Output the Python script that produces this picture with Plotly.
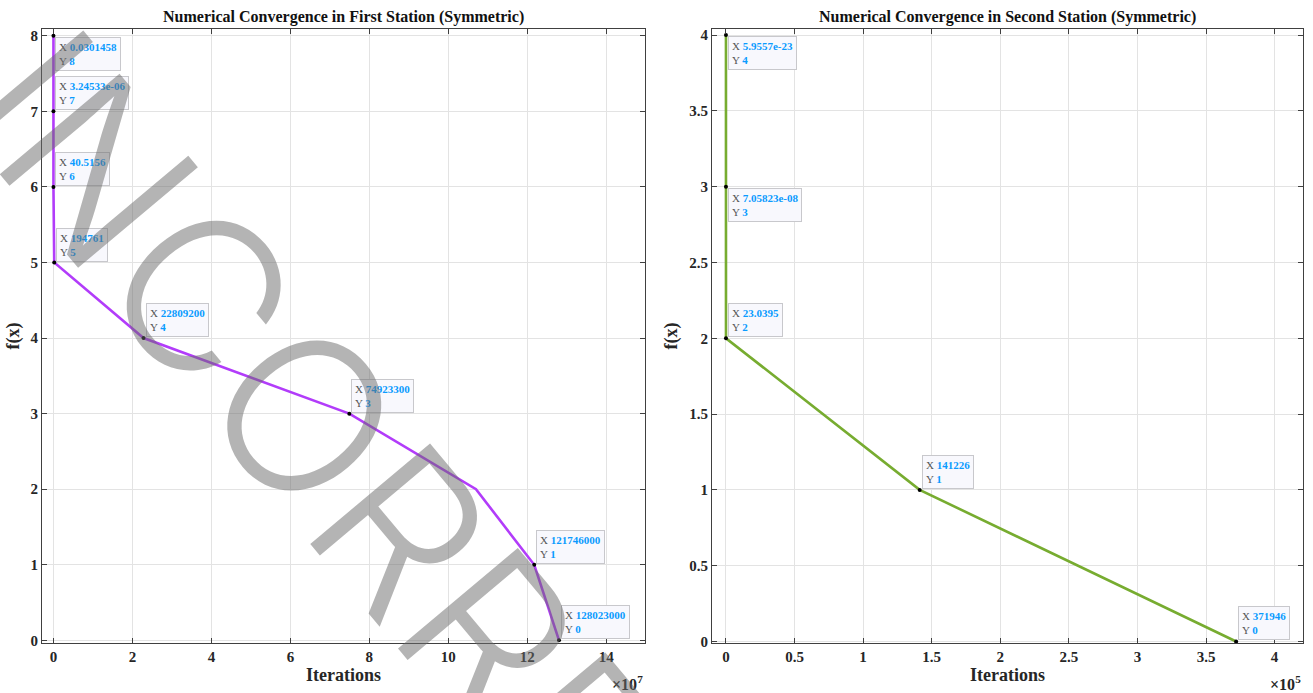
import plotly.graph_objects as go

# ---- data: first station (symmetric) ----
first_iter = [0.0301458, 3.24533e-06, 40.5156, 194761, 22809200, 74923300,
              107000000, 121746000, 128023000]
first_f = [8, 7, 6, 5, 4, 3, 2, 1, 0]
first_tip_idx = [0, 1, 2, 3, 4, 5, 7, 8]
first_tip_text = ["0.0301458", "3.24533e-06", "40.5156", "194761", "22809200",
                  "74923300", None, "121746000", "128023000"]

# ---- data: second station (symmetric) ----
second_iter = [5.9557e-23, 7.05823e-08, 23.0395, 141226, 371946]
second_f = [4, 3, 2, 1, 0]
second_tip_idx = [0, 1, 2, 3, 4]
second_tip_text = ["5.9557e-23", "7.05823e-08", "23.0395", "141226", "371946"]

# ---- tick labels ----
first_xticks = [0, 2e7, 4e7, 6e7, 8e7, 10e7, 12e7, 14e7]
first_xticklabels = ["0", "2", "4", "6", "8", "10", "12", "14"]
first_yticks = [0, 1, 2, 3, 4, 5, 6, 7, 8]
second_xticks = [0, 0.5e5, 1e5, 1.5e5, 2e5, 2.5e5, 3e5, 3.5e5, 4e5]
second_xticklabels = ["0", "0.5", "1", "1.5", "2", "2.5", "3", "3.5", "4"]
second_yticks = [0, 0.5, 1, 1.5, 2, 2.5, 3, 3.5, 4]
second_yticklabels = ["0", "0.5", "1", "1.5", "2", "2.5", "3", "3.5", "4"]

SERIF = "Liberation Serif, Times New Roman, serif"
PURPLE = "#b23cfa"
GREEN = "#77ac30"
TIP_BLUE = "#0a9bff"

fig = go.Figure()

fig.add_trace(go.Scatter(x=first_iter, y=first_f, mode="lines",
                         line=dict(color=PURPLE, width=2.6),
                         xaxis="x", yaxis="y", showlegend=False))
fig.add_trace(go.Scatter(x=[first_iter[i] for i in first_tip_idx],
                         y=[first_f[i] for i in first_tip_idx], mode="markers",
                         marker=dict(color="black", size=4),
                         xaxis="x", yaxis="y", showlegend=False))
fig.add_trace(go.Scatter(x=second_iter, y=second_f, mode="lines",
                         line=dict(color=GREEN, width=2.6),
                         xaxis="x2", yaxis="y2", showlegend=False))
fig.add_trace(go.Scatter(x=[second_iter[i] for i in second_tip_idx],
                         y=[second_f[i] for i in second_tip_idx], mode="markers",
                         marker=dict(color="black", size=4),
                         xaxis="x2", yaxis="y2", showlegend=False))

axis_common = dict(
    showline=True, linecolor="#404040", linewidth=1, mirror="allticks",
    ticks="inside", ticklen=5, tickcolor="#404040",
    showgrid=True, gridcolor="#e3e3e3", gridwidth=1, zeroline=False,
    tickfont=dict(family=SERIF, size=15, color="#262626", weight="bold"),
)

fig.update_layout(
    width=1313, height=693,
    margin=dict(l=42, r=10, t=29, b=50),
    paper_bgcolor="white", plot_bgcolor="white",
    xaxis=dict(domain=[0, 0.4782], range=[-0.29e7, 14.98e7],
               tickvals=first_xticks, ticktext=first_xticklabels,
               title=dict(text="Iterations", standoff=4,
                          font=dict(family=SERIF, size=18, color="#262626", weight="bold")),
               anchor="y", **axis_common),
    yaxis=dict(domain=[0, 1], range=[-0.035, 8.09], tickvals=first_yticks,
               title=dict(text="f(x)", standoff=6,
                          font=dict(family=SERIF, size=18, color="#262626", weight="bold")),
               anchor="x", **axis_common),
    xaxis2=dict(domain=[0.5313, 1], range=[-0.102e5, 4.207e5],
                tickvals=second_xticks, ticktext=second_xticklabels,
                title=dict(text="Iterations", standoff=4,
                           font=dict(family=SERIF, size=18, color="#262626", weight="bold")),
                anchor="y2", **axis_common),
    yaxis2=dict(domain=[0, 1], range=[-0.01, 4.04], tickvals=second_yticks,
                ticktext=second_yticklabels,
                title=dict(text="f(x)", standoff=6,
                           font=dict(family=SERIF, size=18, color="#262626", weight="bold")),
                anchor="x2", **axis_common),
)

annotations = []

# subplot titles
for xc, label in [(0.2391, "Numerical Convergence in First Station (Symmetric)"),
                  (0.7656, "Numerical Convergence in Second Station (Symmetric)")]:
    annotations.append(dict(x=xc, y=1.0, xref="paper", yref="paper",
                            xanchor="center", yanchor="bottom", yshift=1,
                            text=label, showarrow=False,
                            font=dict(family=SERIF, size=16, color="#111111", weight="bold")))

# axis exponent labels
for xr, exp in [(0.4782, 7), (1.0, 5)]:
    annotations.append(dict(x=xr, y=0, xref="paper", yref="paper",
                            xanchor="right", yanchor="top", yshift=-28,
                            text=f"×10<sup>{exp}</sup>", showarrow=False,
                            font=dict(family=SERIF, size=16, color="#262626", weight="bold")))


def tip(xv, yv, xs, ax, ay, below):
    txt = (f"<span style='color:#555555'>X </span>"
           f"<span style='color:{TIP_BLUE}'><b>{xs}</b></span><br>"
           f"<span style='color:#555555'>Y </span>"
           f"<span style='color:{TIP_BLUE}'><b>{yv:g}</b></span>")
    return dict(x=xv, y=yv, xref=ax, yref=ay, text=txt, showarrow=False,
                xanchor="left", yanchor="top" if below else "bottom",
                xshift=2, yshift=-1 if below else 1, align="left",
                bgcolor="#f8f8fd", bordercolor="#c8c8cc", borderwidth=1, borderpad=3,
                font=dict(family=SERIF, size=11, color="#555555"))


first_below = {0}
for i in first_tip_idx:
    annotations.append(tip(first_iter[i], first_f[i], first_tip_text[i], "x", "y",
                           i in first_below))
second_below = {0, 1}
for i in second_tip_idx:
    annotations.append(tip(second_iter[i], second_f[i], second_tip_text[i], "x2", "y2",
                           i in second_below))

# diagonal stamp across the left panel
annotations.append(dict(x=0.2887, y=0.1726, xref="paper", yref="paper",
                        xanchor="center", yanchor="middle", textangle=50,
                        text="INCORRECT", showarrow=False,
                        font=dict(family="Inter, Roboto, Liberation Sans, sans-serif",
                                  size=215, color="rgba(105,105,105,0.5)", weight=300)))

fig.update_layout(annotations=annotations)

fig.write_html("out.html")
